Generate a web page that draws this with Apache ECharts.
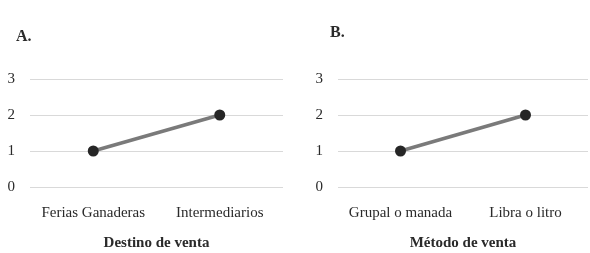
<!DOCTYPE html>
<html>
<head>
<meta charset="utf-8">
<script src="https://cdn.jsdelivr.net/npm/echarts@6/dist/echarts.min.js"></script>
<style>
  html, body { margin: 0; padding: 0; background: #fff; }
  #chart { width: 590px; height: 253px; }
</style>
</head>
<body>
<div id="chart"></div>
<script>
// data
var catsA = ['Ferias Ganaderas', 'Intermediarios'];
var valsA = [1, 2];
var catsB = ['Grupal o manada', 'Libra o litro'];
var valsB = [1, 2];
var yTicks = [0, 1, 2, 3];

var font = "'Liberation Serif', 'Times New Roman', serif";
var lineColor = '#7a7a7a';
var dotColor = '#262626';
var textColor = '#2a2a2a';

function xAxis(idx, cats, name) {
  return {
    type: 'category', gridIndex: idx, data: cats, boundaryGap: true,
    name: name, nameLocation: 'middle', nameGap: 49,
    nameTextStyle: { fontFamily: font, fontSize: 15, fontWeight: 'bold', color: textColor },
    axisLine: { show: false }, axisTick: { show: false },
    axisLabel: { interval: 0, fontFamily: font, fontSize: 15, color: textColor, margin: 19 }
  };
}
function yAxis(idx) {
  return {
    type: 'value', gridIndex: idx, min: yTicks[0], max: yTicks[yTicks.length - 1], interval: 1,
    axisLine: { show: false }, axisTick: { show: false },
    axisLabel: { fontFamily: font, fontSize: 15, color: textColor, margin: 15 },
    splitLine: { lineStyle: { color: '#d9d9d9', width: 1 } }
  };
}
function series(idx, vals) {
  return {
    type: 'line', xAxisIndex: idx, yAxisIndex: idx, data: vals,
    symbol: 'circle', symbolSize: 11,
    lineStyle: { color: lineColor, width: 3.5 },
    itemStyle: { color: dotColor }
  };
}

var chart = echarts.init(document.getElementById('chart'));
chart.setOption({
  animation: false,
  title: [
    { text: 'A.', left: 11, top: 24, textStyle: { fontFamily: font, fontSize: 16, fontWeight: 'bold', color: textColor } },
    { text: 'B.', left: 325, top: 20, textStyle: { fontFamily: font, fontSize: 16, fontWeight: 'bold', color: textColor } }
  ],
  grid: [
    { left: 30, top: 79, width: 253, height: 108, containLabel: false, outerBoundsMode: 'none' },
    { left: 338, top: 79, width: 250, height: 108, containLabel: false, outerBoundsMode: 'none' }
  ],
  xAxis: [xAxis(0, catsA, 'Destino de venta'), xAxis(1, catsB, 'Método de venta')],
  yAxis: [yAxis(0), yAxis(1)],
  series: [series(0, valsA), series(1, valsB)]
});
</script>
</body>
</html>
